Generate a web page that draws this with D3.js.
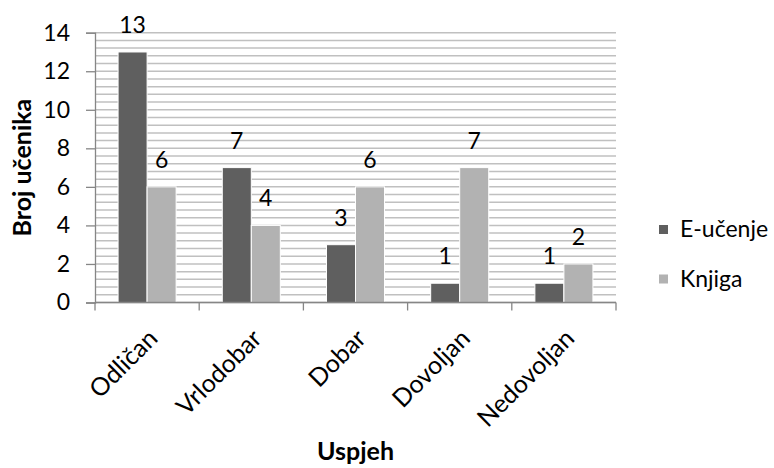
<!DOCTYPE html>
<html>
<head>
<meta charset="utf-8">
<script src="https://cdn.jsdelivr.net/npm/d3@7"></script>
<style>
  html, body { margin: 0; padding: 0; background: #fff; }
  svg { display: block; }
  text { font-family: Lato, "Open Sans", sans-serif; fill: #000; }
</style>
</head>
<body>
<svg id="chart" width="774" height="468"></svg>
<script>
// Grades (categories) and the number of students per learning method
const categories = ["Odličan", "Vrlodobar", "Dobar", "Dovoljan", "Nedovoljan"];
const seriesNames = ["E-učenje", "Knjiga"];
const eUcenje = [13, 7, 3, 1, 1];
const knjiga = [6, 4, 6, 7, 2];
const yTicks = [0, 2, 4, 6, 8, 10, 12, 14];
const seriesColors = ["#5f5f5f", "#b2b2b2"];

const values = [eUcenje, knjiga];
const svg = d3.select("#chart");
const plot = { left: 95, right: 616, top: 32.7, bottom: 302.5 };
const fontSize = 23;
const catFontSize = 25;

const y = d3.scaleLinear().domain([0, 14]).range([plot.bottom, plot.top]);
const x0 = d3.scaleBand().domain(categories)
  .range([plot.left, plot.right])
  .paddingInner(0.443).paddingOuter(0.2215);
const x1 = d3.scaleBand().domain(seriesNames).range([0, x0.bandwidth()]);
const step = x0.step();

// Horizontal gridlines every 0.4 units
const gridVals = d3.range(0, 35 + 1).map(i => +(i * 0.4).toFixed(1));
svg.append("g").selectAll("line").data(gridVals).join("line")
  .attr("x1", plot.left).attr("x2", plot.right)
  .attr("y1", d => y(d)).attr("y2", d => y(d))
  .attr("stroke", "#c0c0c0").attr("stroke-width", 1.5);

// Bars
const groups = svg.append("g").selectAll("g").data(categories).join("g")
  .attr("transform", c => `translate(${x0(c)},0)`);
groups.selectAll("rect")
  .data((c, i) => seriesNames.map((s, k) => ({ s, k, v: values[k][i] })))
  .join("rect")
  .attr("x", d => x1(d.s))
  .attr("width", x1.bandwidth())
  .attr("y", d => y(d.v))
  .attr("height", d => y(0) - y(d.v))
  .attr("fill", d => seriesColors[d.k])
  .attr("stroke", "#fff").attr("stroke-width", 1);

// Value labels above the bars
groups.selectAll("text.val")
  .data((c, i) => seriesNames.map((s, k) => ({ s, k, v: values[k][i] })))
  .join("text").attr("class", "val")
  .attr("x", d => x1(d.s) + x1.bandwidth() / 2)
  .attr("y", d => y(d.v) - 19)
  .attr("text-anchor", "middle")
  .style("font-size", fontSize + "px")
  .text(d => d.v);

// Y axis
const yAxis = svg.append("g")
  .attr("transform", `translate(${plot.left},0)`)
  .call(d3.axisLeft(y).tickValues(yTicks).tickSize(9).tickPadding(16).tickFormat(d3.format("d")));
yAxis.select(".domain").attr("stroke", "#868686").attr("stroke-width", 1.3);
yAxis.selectAll(".tick line").attr("stroke", "#868686").attr("stroke-width", 1.3);
yAxis.selectAll(".tick text").style("font-size", fontSize + "px")
  .style("font-family", "Lato, sans-serif").attr("fill", "#000");

// X axis: baseline with tick marks between categories
const xg = svg.append("g");
xg.append("line")
  .attr("x1", plot.left).attr("x2", plot.right)
  .attr("y1", plot.bottom).attr("y2", plot.bottom)
  .attr("stroke", "#868686").attr("stroke-width", 1.3);
xg.selectAll("line.tk").data(d3.range(categories.length + 1)).join("line")
  .attr("class", "tk")
  .attr("x1", i => plot.left + i * step).attr("x2", i => plot.left + i * step)
  .attr("y1", plot.bottom).attr("y2", plot.bottom + 8)
  .attr("stroke", "#868686").attr("stroke-width", 1.3);
xg.selectAll("text").data(categories).join("text")
  .attr("transform", c => `translate(${x0(c) + x0.bandwidth() / 2 + 12},340) rotate(-45)`)
  .attr("text-anchor", "end")
  .style("font-size", catFontSize + "px")
  .text(c => c);

// Axis titles
svg.append("text")
  .attr("x", (plot.left + plot.right) / 2).attr("y", 460)
  .attr("text-anchor", "middle")
  .style("font-size", catFontSize + "px").style("font-weight", "bold")
  .text("Uspjeh");
svg.append("text")
  .attr("transform", `translate(31,${(plot.top + plot.bottom) / 2}) rotate(-90)`)
  .attr("text-anchor", "middle")
  .style("font-size", catFontSize + "px").style("font-weight", "bold")
  .text("Broj učenika");

// Legend
const legend = svg.append("g").selectAll("g").data(seriesNames).join("g")
  .attr("transform", (s, i) => `translate(659,${225 + i * 49.5})`);
legend.append("rect").attr("width", 9).attr("height", 9)
  .attr("fill", (s, i) => seriesColors[i]);
legend.append("text").attr("x", 21).attr("y", 12)
  .style("font-size", fontSize + "px")
  .text(s => s);
</script>
</body>
</html>
